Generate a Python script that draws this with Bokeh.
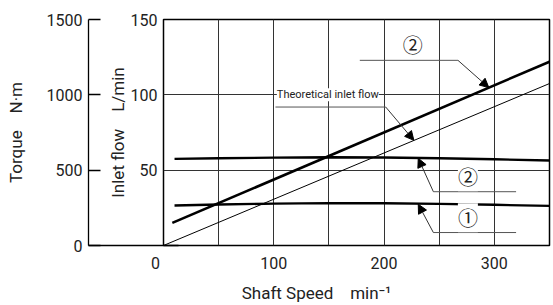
from bokeh.plotting import figure
from bokeh.models import (Range1d, LinearAxis, FixedTicker, Label, Arrow,
                          NormalHead, Grid)
from bokeh.embed import file_html
from bokeh.resources import INLINE

# ---------------- data ----------------
speed_torque = [10, 50, 100, 150, 200, 250, 300, 350]
torque_1 = [265, 272, 278, 281, 280, 276, 270, 263]
torque_2 = [575, 579, 583, 586, 584, 579, 572, 564]

speed_flow = [8, 350]
flow_2 = [15, 122]

speed_theo = [0, 350]
flow_theo = [0, 107.5]

x_ticks = [0, 100, 200, 300]
flow_ticks = [50, 100, 150]
torque_ticks = [0, 500, 1000, 1500]
grid_x = [50, 100, 150, 200, 250, 300]
grid_y = [50, 100]

# annotation anchors (speed, flow units)
lbl_top2 = (226, 133.5)
lead_top2_x = [178, 267]
lead_top2_y = [122.9, 122.9]
arrow_top2 = (267, 122.9, 295, 104.8)

lbl_theo = (149, 100)
lead_theo_x = [101.5, 201.5]
lead_theo_y = [91.9, 91.9]
arrow_theo = (201.5, 91.9, 227, 69.8)

lbl_low2 = (276, 45.6)
lead_low2_x = [244.7, 319.7]
lead_low2_y = [35.7, 35.7]
arrow_low2 = (244.7, 35.7, 231, 57.9)

lbl_low1 = (276, 18.5)
lead_low1_x = [244.7, 319.7]
lead_low1_y = [8.6, 8.6]
arrow_low1 = (244.7, 8.6, 231, 27.4)

FONT = "Roboto"
CIRC = "Noto Sans CJK JP"
TXT = "#222222"
NB = "\u00a0"

p = figure(width=553, height=305, output_backend="svg", toolbar_location=None,
           x_range=Range1d(0, 350), y_range=Range1d(0, 150),
           y_axis_location=None, min_border_left=163, min_border_right=4,
           min_border_top=19, min_border_bottom=59)
p.extra_y_ranges = {"torque": Range1d(0, 1500)}
p.background_fill_color = "white"
p.border_fill_color = "white"
p.outline_line_color = "black"
p.outline_line_width = 1.5

for g in p.grid:
    g.visible = False
p.add_layout(Grid(dimension=0, ticker=FixedTicker(ticks=grid_x),
                  grid_line_color="#333333", grid_line_width=1))
p.add_layout(Grid(dimension=1, ticker=FixedTicker(ticks=grid_y),
                  grid_line_color="#333333", grid_line_width=1))

# x axis
xa = p.xaxis[0]
xa.ticker = FixedTicker(ticks=x_ticks)
xa.major_label_overrides = {0: "0" + NB * 4}
xa.axis_line_color = None
xa.major_tick_in = 0
xa.major_tick_out = 0
xa.minor_tick_in = 0
xa.minor_tick_out = 0
xa.major_label_standoff = 8
xa.major_label_text_font = FONT
xa.major_label_text_font_size = "16px"
xa.major_label_text_color = TXT
xa.axis_label = "Shaft Speed" + NB * 4 + "min\u207b\u00b9" + NB * 19
xa.axis_label_standoff = 7
xa.axis_label_text_font = FONT
xa.axis_label_text_font_size = "17px"
xa.axis_label_text_font_style = "normal"
xa.axis_label_text_color = TXT

# flow axis (inner left)
fa = LinearAxis(ticker=FixedTicker(ticks=flow_ticks),
                axis_line_color=None, major_tick_in=0, major_tick_out=0,
                minor_tick_in=0, minor_tick_out=0, major_label_standoff=6,
                major_label_text_font=FONT, major_label_text_font_size="16px",
                major_label_text_color=TXT,
                axis_label="Inlet flow" + NB * 4 + "L/min", axis_label_standoff=0,
                axis_label_text_font=FONT, axis_label_text_font_size="17px",
                axis_label_text_font_style="normal", axis_label_text_color=TXT)
p.add_layout(fa, "left")

# spacer (empty axis whose blank label keeps a gap)
sp = LinearAxis(ticker=FixedTicker(ticks=[]), axis_line_color=None,
                major_tick_in=0, major_tick_out=0, minor_tick_in=0,
                minor_tick_out=0, major_label_standoff=0,
                axis_label=NB, axis_label_standoff=0,
                axis_label_text_font=FONT, axis_label_text_font_size="11px")
p.add_layout(sp, "left")

# torque axis (outer left)
ta = LinearAxis(y_range_name="torque",
                ticker=FixedTicker(ticks=torque_ticks, minor_ticks=[0]),
                axis_line_color="black", axis_line_width=1.3,
                major_tick_in=12, major_tick_out=0, major_tick_line_color="black",
                major_tick_line_width=1.3,
                minor_tick_in=90, minor_tick_out=0, minor_tick_line_color="black",
                minor_tick_line_width=1.5,
                major_label_standoff=6,
                major_label_text_font=FONT, major_label_text_font_size="16px",
                major_label_text_color=TXT,
                axis_label="Torque" + NB * 4 + "N\u00b7m", axis_label_standoff=18,
                axis_label_text_font=FONT, axis_label_text_font_size="17px",
                axis_label_text_font_style="normal", axis_label_text_color=TXT)
p.add_layout(ta, "left")

# curves
p.line(speed_theo, flow_theo, line_color="black", line_width=1)
p.line(speed_flow, flow_2, line_color="black", line_width=2.6)
p.line(speed_torque, torque_2, y_range_name="torque", line_color="black", line_width=2.4)
p.line(speed_torque, torque_1, y_range_name="torque", line_color="black", line_width=2.4)

# leaders
for lx, ly in [(lead_top2_x, lead_top2_y), (lead_theo_x, lead_theo_y),
               (lead_low2_x, lead_low2_y), (lead_low1_x, lead_low1_y)]:
    p.line(lx, ly, line_color="#555555", line_width=1)

for a in [arrow_top2, arrow_theo, arrow_low2, arrow_low1]:
    p.add_layout(Arrow(end=NormalHead(size=9, fill_color="black", line_color="black",
                                      line_width=1),
                       x_start=a[0], y_start=a[1], x_end=a[2], y_end=a[3],
                       line_color="#333333", line_width=1))

def lab(pos, text, font, size):
    p.add_layout(Label(x=pos[0], y=pos[1], text=text, text_align="center",
                       text_baseline="middle", text_font=font,
                       text_font_size=size, text_color=TXT,
                       background_fill_color="white"))

lab(lbl_top2, "\u2461", CIRC, "20px")
lab(lbl_theo, "Theoretical inlet flow", FONT, "11px")
lab(lbl_low2, "\u2461", CIRC, "20px")
lab(lbl_low1, "\u2460", CIRC, "20px")

open("out.html", "w").write(file_html(p, INLINE))
